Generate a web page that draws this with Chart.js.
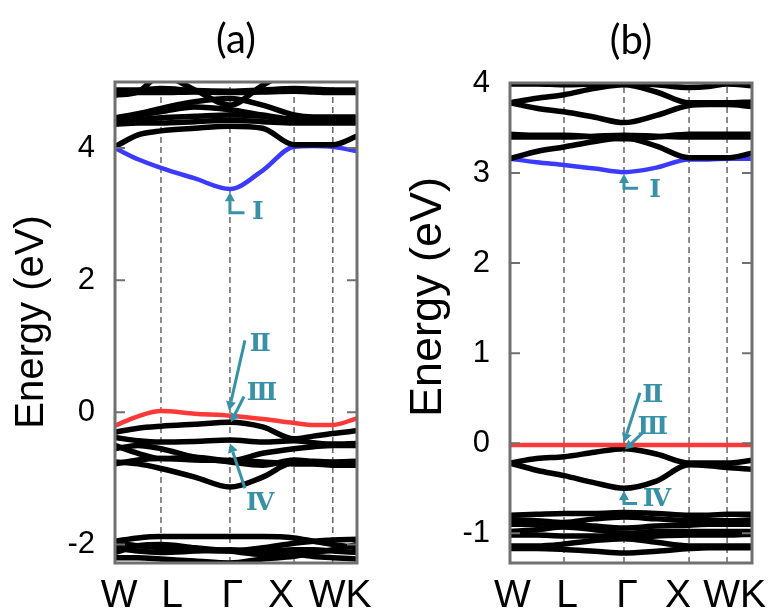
<!DOCTYPE html>
<html>
<head>
<meta charset="utf-8">
<script src="https://cdn.jsdelivr.net/npm/chart.js@4.4.1/dist/chart.umd.min.js"></script>
<style>
html, body { margin: 0; padding: 0; background: #fff; }
#wrap { position: relative; width: 776px; height: 613px; }
canvas { position: absolute; left: 0; top: 0; }
</style>
</head>
<body>
<div id="wrap">
  <canvas id="chartA" width="776" height="613"></canvas>
  <canvas id="chartB" width="776" height="613"></canvas>
</div>
<script>
// k-path sample positions (W, W-L, L, L-G, G, G-X, X, X-W, W, K)
const kA = [0, 0.095, 0.19, 0.33, 0.475, 0.61, 0.74, 0.82, 0.90, 1.0];
const kB = [0, 0.11, 0.223, 0.35, 0.471, 0.605, 0.74, 0.82, 0.897, 1.0];
const symA = [0.19, 0.475, 0.74, 0.90];
const symB = [0.223, 0.471, 0.74, 0.897];
const xLabels = ['W', 'L', 'Γ', 'X', 'WK'];
const xLabelPosA = [0.017, 0.236, 0.484, 0.686, 0.93];
const xLabelPosB = [0.01, 0.236, 0.483, 0.694, 0.928];
const yTicksA = [-2, 0, 2, 4];
const yTicksB = [-1, 0, 1, 2, 3, 4];

// panel (a) bands, eV
const redA = [-0.20, -0.06, 0.02, -0.02, -0.05, -0.10, -0.16, -0.19, -0.19, -0.09];
const blueA = [4.00, 3.83, 3.70, 3.54, 3.38, 3.66, 4.02, 4.03, 4.02, 3.95];
const blackA = [
  [4.02, 4.20, 4.26, 4.30, 4.33, 4.30, 4.05, 4.05, 4.05, 4.18],
  [4.36, 4.38, 4.38, 4.40, 4.42, 4.40, 4.38, 4.38, 4.38, 4.38],
  [4.40, 4.43, 4.46, 4.48, 4.50, 4.48, 4.42, 4.42, 4.42, 4.42],
  [4.44, 4.50, 4.55, 4.62, 4.58, 4.50, 4.44, 4.44, 4.45, 4.45],
  [4.46, 4.52, 4.60, 4.70, 4.75, 4.65, 4.50, 4.47, 4.47, 4.47],
  [4.84, 4.84, 4.84, 4.85, 4.84, 4.85, 4.86, 4.85, 4.84, 4.84],
  [4.88, 4.88, 4.90, 4.87, 4.86, 4.88, 4.90, 4.89, 4.88, 4.88],
  [4.80, 4.85, 5.10, 4.88, 4.65, 4.95, 5.20, 5.30, 5.30, 5.30],
  [-0.30, -0.24, -0.21, -0.18, -0.15, -0.22, -0.40, -0.36, -0.32, -0.28],
  [-0.38, -0.43, -0.45, -0.44, -0.42, -0.45, -0.43, -0.46, -0.48, -0.47],
  [-0.50, -0.62, -0.70, -0.68, -0.73, -0.62, -0.55, -0.52, -0.50, -0.50],
  [-0.55, -0.50, -0.55, -0.68, -0.75, -0.80, -0.72, -0.74, -0.75, -0.74],
  [-0.75, -0.78, -0.85, -0.98, -1.13, -0.98, -0.76, -0.76, -0.78, -0.78],
  [-0.78, -0.72, -0.70, -0.72, -0.73, -0.75, -0.78, -0.78, -0.80, -0.80],
  [-1.95, -1.90, -1.88, -1.88, -1.88, -1.88, -1.90, -1.95, -2.00, -2.05],
  [-1.98, -2.02, -2.05, -2.08, -2.10, -2.05, -1.98, -1.95, -1.93, -1.92],
  [-2.05, -2.10, -2.12, -2.10, -2.08, -2.10, -2.08, -2.08, -2.10, -2.12],
  [-2.12, -2.02, -2.00, -2.05, -2.10, -2.15, -2.15, -2.18, -2.20, -2.22],
  [-2.20, -2.20, -2.22, -2.25, -2.28, -2.22, -2.18, -2.12, -2.08, -2.00]
];

// panel (b) bands, eV
const redB = [-0.02, -0.02, -0.02, -0.02, -0.02, -0.02, -0.02, -0.02, -0.02, -0.02];
const blueB = [3.16, 3.12, 3.09, 3.05, 3.01, 3.06, 3.15, 3.15, 3.16, 3.16];
const blackB = [
  [3.16, 3.24, 3.29, 3.35, 3.39, 3.30, 3.17, 3.17, 3.17, 3.22],
  [3.40, 3.40, 3.40, 3.41, 3.42, 3.41, 3.40, 3.40, 3.40, 3.40],
  [3.43, 3.42, 3.42, 3.40, 3.38, 3.40, 3.43, 3.43, 3.43, 3.43],
  [3.78, 3.72, 3.68, 3.62, 3.56, 3.64, 3.75, 3.76, 3.76, 3.74],
  [3.78, 3.83, 3.87, 3.94, 3.98, 3.90, 3.78, 3.78, 3.78, 3.79],
  [3.99, 3.99, 3.98, 3.99, 4.00, 3.98, 3.95, 3.96, 3.99, 3.97],
  [-0.22, -0.17, -0.15, -0.10, -0.06, -0.12, -0.22, -0.22, -0.22, -0.19],
  [-0.22, -0.30, -0.36, -0.44, -0.50, -0.42, -0.24, -0.25, -0.27, -0.29],
  [-0.80, -0.79, -0.78, -0.78, -0.77, -0.78, -0.80, -0.80, -0.79, -0.79],
  [-0.85, -0.86, -0.88, -0.84, -0.82, -0.84, -0.86, -0.86, -0.86, -0.85],
  [-0.90, -0.90, -0.89, -0.92, -0.94, -0.92, -0.91, -0.90, -0.90, -0.90],
  [-0.98, -0.96, -0.93, -0.96, -1.00, -0.98, -0.98, -0.98, -0.98, -0.98],
  [-1.02, -1.02, -1.03, -1.03, -1.04, -1.03, -1.02, -1.02, -1.02, -1.01],
  [-1.14, -1.14, -1.12, -1.08, -1.06, -1.10, -1.14, -1.14, -1.14, -1.14],
  [-1.17, -1.17, -1.18, -1.20, -1.22, -1.20, -1.17, -1.16, -1.16, -1.16]
];

// arrow labels: label spot and arrow path (last point = tip), in (k, eV)
const notesA = [
  { text: 'Ⅰ', at: [0.59, 3.02], path: [[0.535, 3.02], [0.475, 3.02], [0.475, 3.33]] },
  { text: 'Ⅱ', at: [0.60, 1.02], path: [[0.537, 1.09], [0.471, 0.03]] },
  { text: 'Ⅲ', at: [0.607, 0.29], path: [[0.533, 0.24], [0.479, -0.15]] },
  { text: 'Ⅳ', at: [0.60, -1.38], path: [[0.537, -1.15], [0.475, -0.47]] }
];
const notesB = [
  { text: 'Ⅰ', at: [0.60, 2.81], path: [[0.529, 2.83], [0.471, 2.83], [0.471, 2.99]] },
  { text: 'Ⅱ', at: [0.59, 0.53], path: [[0.537, 0.56], [0.471, 0.01]] },
  { text: 'Ⅲ', at: [0.59, 0.17], path: [[0.55, 0.12], [0.475, -0.07]] },
  { text: 'Ⅳ', at: [0.607, -0.63], path: [[0.525, -0.67], [0.471, -0.67], [0.471, -0.53]] }
];

const teal = '#3891a6';

const decor = {
  id: 'decor',
  afterDatasetsDraw(chart, args, opts) {
    const { ctx, chartArea: a, scales: { x, y } } = chart;
    ctx.save();
    ctx.strokeStyle = '#707070';
    ctx.lineWidth = 2;
    y.ticks.forEach(t => {
      const py = y.getPixelForValue(t.value);
      ctx.beginPath();
      ctx.moveTo(a.left, py); ctx.lineTo(a.left + 10, py);
      ctx.moveTo(a.right, py); ctx.lineTo(a.right - 10, py);
      ctx.stroke();
    });
    ctx.lineWidth = 3;
    ctx.strokeRect(a.left, a.top, a.right - a.left, a.bottom - a.top);

    // arrows
    ctx.strokeStyle = teal;
    ctx.fillStyle = teal;
    ctx.lineWidth = 3;
    opts.notes.forEach(n => {
      const p = n.path.map(q => [x.getPixelForValue(q[0]), y.getPixelForValue(q[1])]);
      const tip = p[p.length - 1], prev = p[p.length - 2];
      const ang = Math.atan2(tip[1] - prev[1], tip[0] - prev[0]);
      const hl = 9, hw = 5;
      const bx = tip[0] - hl * Math.cos(ang), by = tip[1] - hl * Math.sin(ang);
      ctx.beginPath();
      ctx.moveTo(p[0][0], p[0][1]);
      for (let i = 1; i < p.length - 1; i++) ctx.lineTo(p[i][0], p[i][1]);
      ctx.lineTo(bx, by);
      ctx.stroke();
      ctx.beginPath();
      ctx.moveTo(tip[0], tip[1]);
      ctx.lineTo(bx + hw * Math.sin(ang), by - hw * Math.cos(ang));
      ctx.lineTo(bx - hw * Math.sin(ang), by + hw * Math.cos(ang));
      ctx.closePath();
      ctx.fill();
      ctx.font = 'bold 25px "DejaVu Serif", "Liberation Serif", serif';
      ctx.textAlign = 'center';
      ctx.textBaseline = 'middle';
      ctx.fillText(n.text, x.getPixelForValue(n.at[0]), y.getPixelForValue(n.at[1]));
    });

    // y axis title
    const t = opts.yTitle;
    ctx.fillStyle = '#000';
    ctx.font = t.size + 'px "Liberation Sans", Arial, sans-serif';
    ctx.textAlign = 'center';
    ctx.textBaseline = 'alphabetic';
    ctx.translate(t.x, t.y);
    ctx.rotate(-Math.PI / 2);
    ctx.fillText('Energy (eV)', 0, 0);
    ctx.restore();
  }
};

function bandSets(k, red, blue, black, sym, ymin, ymax) {
  const pts = arr => arr.map((e, i) => ({ x: k[i], y: e }));
  const sets = [];
  sets.push({ data: pts(red), borderColor: '#ff3838', borderWidth: 4.5 });
  black.forEach(b => sets.push({ data: pts(b), borderColor: '#000', borderWidth: 5.5 }));
  sets.push({ data: pts(blue), borderColor: '#3b3bff', borderWidth: 4.5 });
  sym.forEach(s => sets.push({
    data: [{ x: s, y: ymin }, { x: s, y: ymax }],
    borderColor: '#666', borderWidth: 1.5, borderDash: [6, 4], cubicInterpolationMode: 'default'
  }));
  return sets;
}

function makeChart(id, p) {
  return new Chart(document.getElementById(id), {
    type: 'line',
    data: { datasets: bandSets(p.k, p.red, p.blue, p.black, p.sym, p.ymin, p.ymax) },
    options: {
      responsive: false,
      animation: false,
      events: [],
      layout: { padding: { left: p.padLeft, right: p.padRight, top: 0, bottom: 0 } },
      elements: { point: { radius: 0 }, line: { cubicInterpolationMode: 'monotone' } },
      datasets: { line: { clip: 0 } },
      plugins: {
        legend: { display: false },
        tooltip: { enabled: false },
        title: {
          display: true, text: p.title, fullSize: false, color: '#000',
          font: { family: 'Lato, "Open Sans", sans-serif', size: 40, weight: 'normal' },
          padding: { top: p.titleTop, bottom: p.titleBottom }
        },
        decor: { notes: p.notes, yTitle: p.yTitle }
      },
      scales: {
        x: {
          type: 'linear', min: 0, max: 1,
          grid: { display: false }, border: { display: false },
          afterFit: s => { s.height = 50; },
          afterBuildTicks: s => { s.ticks = p.xLabelPos.map(v => ({ value: v })); },
          ticks: {
            autoSkip: false, maxRotation: 0, padding: 2, color: '#000',
            font: { family: '"Liberation Sans", Arial, sans-serif', size: 39 },
            callback: (v, i) => xLabels[i]
          }
        },
        y: {
          type: 'linear', min: p.ymin, max: p.ymax,
          grid: { display: false }, border: { display: false },
          afterFit: s => { s.width = p.yWidth; },
          afterBuildTicks: s => { s.ticks = p.yTicks.map(v => ({ value: v })); },
          ticks: {
            padding: 12, color: '#000',
            font: { family: '"Liberation Sans", Arial, sans-serif', size: 31 }
          }
        }
      }
    },
    plugins: [decor]
  });
}

makeChart('chartA', {
  k: kA, red: redA, blue: blueA, black: blackA, sym: symA,
  ymin: -2.28, ymax: 5.0, yTicks: yTicksA, xLabelPos: xLabelPosA,
  padLeft: 0, padRight: 419, yWidth: 115,
  title: '(a)', titleTop: 16, titleBottom: 18,
  notes: notesA, yTitle: { x: 43, y: 322, size: 40 }
});
makeChart('chartB', {
  k: kB, red: redB, blue: blueB, black: blackB, sym: symB,
  ymin: -1.33, ymax: 4.0, yTicks: yTicksB, xLabelPos: xLabelPosB,
  padLeft: 390, padRight: 24, yWidth: 120,
  title: '(b)', titleTop: 17, titleBottom: 18,
  notes: notesB, yTitle: { x: 441, y: 297, size: 45 }
});
</script>
</body>
</html>
